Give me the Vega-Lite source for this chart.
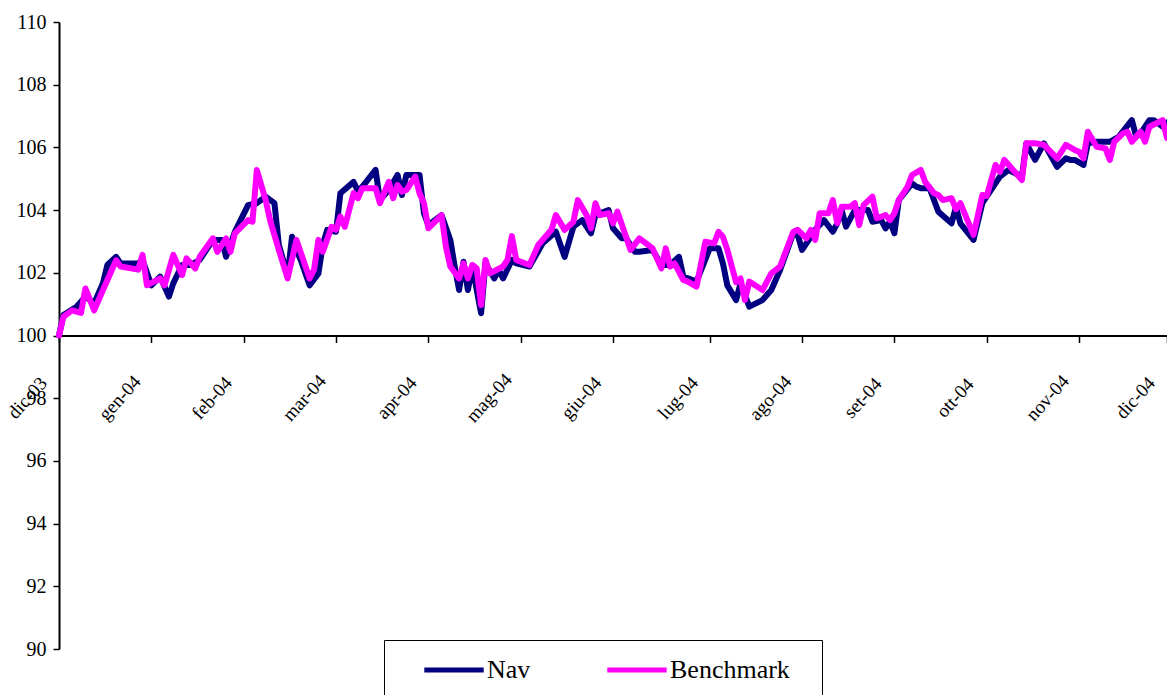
{
  "$schema": "https://vega.github.io/schema/vega-lite/v6.json",
  "width": 1108,
  "height": 627,
  "autosize": {"type": "none"},
  "padding": {"left": 59, "top": 22, "right": 0, "bottom": 46},
  "background": "white",
  "config": {"view": {"stroke": null}, "font": "Liberation Serif"},
  "data": {"values": [
    {"g":0,"s":"Nav","v":100.0},{"g":1,"s":"Nav","v":100.65},{"g":4,"s":"Nav","v":100.92},{"g":6,"s":"Nav","v":101.24},{"g":8,"s":"Nav","v":101.03},{"g":10,"s":"Nav","v":101.67},{"g":11,"s":"Nav","v":102.25},{"g":13,"s":"Nav","v":102.51},{"g":14,"s":"Nav","v":102.3},{"g":18,"s":"Nav","v":102.3},{"g":19,"s":"Nav","v":102.41},{"g":21,"s":"Nav","v":101.6},{"g":23,"s":"Nav","v":101.88},{"g":25,"s":"Nav","v":101.24},{"g":26,"s":"Nav","v":101.67},{"g":28,"s":"Nav","v":102.25},{"g":30,"s":"Nav","v":102.25},{"g":32,"s":"Nav","v":102.41},{"g":35,"s":"Nav","v":103.05},{"g":37,"s":"Nav","v":103.05},{"g":38,"s":"Nav","v":102.51},{"g":40,"s":"Nav","v":103.31},{"g":43,"s":"Nav","v":104.16},{"g":45,"s":"Nav","v":104.22},{"g":47,"s":"Nav","v":104.43},{"g":49,"s":"Nav","v":104.22},{"g":50,"s":"Nav","v":102.89},{"g":52,"s":"Nav","v":101.9},{"g":53,"s":"Nav","v":103.15},{"g":54,"s":"Nav","v":102.73},{"g":55,"s":"Nav","v":102.4},{"g":57,"s":"Nav","v":101.6},{"g":59,"s":"Nav","v":101.98},{"g":60,"s":"Nav","v":102.9},{"g":61,"s":"Nav","v":103.37},{"g":63,"s":"Nav","v":103.31},{"g":64,"s":"Nav","v":104.54},{"g":67,"s":"Nav","v":104.9},{"g":68,"s":"Nav","v":104.59},{"g":69,"s":"Nav","v":104.75},{"g":72,"s":"Nav","v":105.28},{"g":73,"s":"Nav","v":104.32},{"g":75,"s":"Nav","v":104.64},{"g":77,"s":"Nav","v":105.12},{"g":78,"s":"Nav","v":104.48},{"g":79,"s":"Nav","v":105.12},{"g":82,"s":"Nav","v":105.12},{"g":83,"s":"Nav","v":103.9},{"g":84,"s":"Nav","v":103.52},{"g":87,"s":"Nav","v":103.84},{"g":89,"s":"Nav","v":103.05},{"g":90,"s":"Nav","v":102.2},{"g":91,"s":"Nav","v":101.45},{"g":92,"s":"Nav","v":102.35},{"g":93,"s":"Nav","v":101.45},{"g":94,"s":"Nav","v":102.2},{"g":96,"s":"Nav","v":100.71},{"g":97,"s":"Nav","v":102.3},{"g":99,"s":"Nav","v":101.82},{"g":100,"s":"Nav","v":102.09},{"g":101,"s":"Nav","v":101.82},{"g":103,"s":"Nav","v":102.41},{"g":104,"s":"Nav","v":102.3},{"g":107,"s":"Nav","v":102.2},{"g":110,"s":"Nav","v":102.94},{"g":113,"s":"Nav","v":103.31},{"g":115,"s":"Nav","v":102.51},{"g":117,"s":"Nav","v":103.47},{"g":119,"s":"Nav","v":103.68},{"g":121,"s":"Nav","v":103.26},{"g":122,"s":"Nav","v":103.84},{"g":125,"s":"Nav","v":104.0},{"g":126,"s":"Nav","v":103.42},{"g":128,"s":"Nav","v":103.1},{"g":129,"s":"Nav","v":103.1},{"g":131,"s":"Nav","v":102.67},{"g":132,"s":"Nav","v":102.67},{"g":135,"s":"Nav","v":102.73},{"g":137,"s":"Nav","v":102.25},{"g":139,"s":"Nav","v":102.25},{"g":141,"s":"Nav","v":102.51},{"g":142,"s":"Nav","v":101.88},{"g":145,"s":"Nav","v":101.72},{"g":148,"s":"Nav","v":102.78},{"g":150,"s":"Nav","v":102.78},{"g":151,"s":"Nav","v":102.3},{"g":152,"s":"Nav","v":101.6},{"g":154,"s":"Nav","v":101.13},{"g":155,"s":"Nav","v":101.66},{"g":157,"s":"Nav","v":100.92},{"g":160,"s":"Nav","v":101.13},{"g":162,"s":"Nav","v":101.45},{"g":164,"s":"Nav","v":102.09},{"g":167,"s":"Nav","v":103.26},{"g":168,"s":"Nav","v":103.21},{"g":169,"s":"Nav","v":102.73},{"g":171,"s":"Nav","v":103.15},{"g":172,"s":"Nav","v":103.37},{"g":174,"s":"Nav","v":103.68},{"g":176,"s":"Nav","v":103.31},{"g":177,"s":"Nav","v":103.58},{"g":178,"s":"Nav","v":104.0},{"g":179,"s":"Nav","v":103.47},{"g":181,"s":"Nav","v":104.0},{"g":184,"s":"Nav","v":104.0},{"g":185,"s":"Nav","v":103.63},{"g":187,"s":"Nav","v":103.68},{"g":188,"s":"Nav","v":103.42},{"g":189,"s":"Nav","v":103.63},{"g":190,"s":"Nav","v":103.26},{"g":191,"s":"Nav","v":104.32},{"g":194,"s":"Nav","v":104.85},{"g":195,"s":"Nav","v":104.75},{"g":196,"s":"Nav","v":104.7},{"g":198,"s":"Nav","v":104.7},{"g":199,"s":"Nav","v":104.32},{"g":200,"s":"Nav","v":103.95},{"g":203,"s":"Nav","v":103.58},{"g":204,"s":"Nav","v":104.1},{"g":205,"s":"Nav","v":103.58},{"g":208,"s":"Nav","v":103.05},{"g":210,"s":"Nav","v":104.22},{"g":214,"s":"Nav","v":105.07},{"g":216,"s":"Nav","v":105.28},{"g":219,"s":"Nav","v":105.07},{"g":220,"s":"Nav","v":106.13},{"g":222,"s":"Nav","v":105.6},{"g":224,"s":"Nav","v":106.13},{"g":227,"s":"Nav","v":105.38},{"g":229,"s":"Nav","v":105.65},{"g":230,"s":"Nav","v":105.6},{"g":231,"s":"Nav","v":105.6},{"g":233,"s":"Nav","v":105.44},{"g":234,"s":"Nav","v":106.13},{"g":236,"s":"Nav","v":106.18},{"g":238,"s":"Nav","v":106.18},{"g":239,"s":"Nav","v":106.18},{"g":241,"s":"Nav","v":106.34},{"g":244,"s":"Nav","v":106.87},{"g":245,"s":"Nav","v":106.34},{"g":246,"s":"Nav","v":106.45},{"g":248,"s":"Nav","v":106.87},{"g":249,"s":"Nav","v":106.87},{"g":251,"s":"Nav","v":106.66},{"g":252,"s":"Nav","v":106.8},
    {"g":0,"s":"Benchmark","v":100.0},{"g":1,"s":"Benchmark","v":100.6},{"g":3,"s":"Benchmark","v":100.8},{"g":5,"s":"Benchmark","v":100.72},{"g":6,"s":"Benchmark","v":101.5},{"g":8,"s":"Benchmark","v":100.8},{"g":10,"s":"Benchmark","v":101.45},{"g":13,"s":"Benchmark","v":102.4},{"g":14,"s":"Benchmark","v":102.2},{"g":18,"s":"Benchmark","v":102.1},{"g":19,"s":"Benchmark","v":102.57},{"g":20,"s":"Benchmark","v":101.6},{"g":23,"s":"Benchmark","v":101.82},{"g":24,"s":"Benchmark","v":101.6},{"g":26,"s":"Benchmark","v":102.57},{"g":28,"s":"Benchmark","v":101.93},{"g":29,"s":"Benchmark","v":102.46},{"g":31,"s":"Benchmark","v":102.14},{"g":32,"s":"Benchmark","v":102.51},{"g":35,"s":"Benchmark","v":103.1},{"g":36,"s":"Benchmark","v":102.67},{"g":38,"s":"Benchmark","v":103.1},{"g":39,"s":"Benchmark","v":102.67},{"g":40,"s":"Benchmark","v":103.26},{"g":43,"s":"Benchmark","v":103.68},{"g":44,"s":"Benchmark","v":103.63},{"g":45,"s":"Benchmark","v":105.28},{"g":47,"s":"Benchmark","v":104.32},{"g":48,"s":"Benchmark","v":103.68},{"g":50,"s":"Benchmark","v":102.73},{"g":52,"s":"Benchmark","v":101.82},{"g":54,"s":"Benchmark","v":103.05},{"g":57,"s":"Benchmark","v":101.82},{"g":58,"s":"Benchmark","v":102.09},{"g":59,"s":"Benchmark","v":103.05},{"g":60,"s":"Benchmark","v":102.67},{"g":62,"s":"Benchmark","v":103.47},{"g":63,"s":"Benchmark","v":103.37},{"g":64,"s":"Benchmark","v":103.79},{"g":65,"s":"Benchmark","v":103.47},{"g":67,"s":"Benchmark","v":104.54},{"g":68,"s":"Benchmark","v":104.38},{"g":69,"s":"Benchmark","v":104.7},{"g":72,"s":"Benchmark","v":104.7},{"g":73,"s":"Benchmark","v":104.22},{"g":75,"s":"Benchmark","v":104.9},{"g":76,"s":"Benchmark","v":104.38},{"g":77,"s":"Benchmark","v":104.8},{"g":78,"s":"Benchmark","v":104.59},{"g":79,"s":"Benchmark","v":104.64},{"g":81,"s":"Benchmark","v":105.07},{"g":82,"s":"Benchmark","v":104.54},{"g":83,"s":"Benchmark","v":104.22},{"g":84,"s":"Benchmark","v":103.42},{"g":87,"s":"Benchmark","v":103.84},{"g":88,"s":"Benchmark","v":102.83},{"g":89,"s":"Benchmark","v":102.2},{"g":91,"s":"Benchmark","v":101.82},{"g":92,"s":"Benchmark","v":102.3},{"g":93,"s":"Benchmark","v":101.82},{"g":94,"s":"Benchmark","v":102.25},{"g":95,"s":"Benchmark","v":102.14},{"g":96,"s":"Benchmark","v":100.97},{"g":97,"s":"Benchmark","v":102.41},{"g":98,"s":"Benchmark","v":101.98},{"g":101,"s":"Benchmark","v":102.2},{"g":102,"s":"Benchmark","v":102.41},{"g":103,"s":"Benchmark","v":103.17},{"g":104,"s":"Benchmark","v":102.41},{"g":107,"s":"Benchmark","v":102.25},{"g":109,"s":"Benchmark","v":102.89},{"g":112,"s":"Benchmark","v":103.37},{"g":113,"s":"Benchmark","v":103.84},{"g":115,"s":"Benchmark","v":103.37},{"g":117,"s":"Benchmark","v":103.63},{"g":118,"s":"Benchmark","v":104.32},{"g":120,"s":"Benchmark","v":103.84},{"g":121,"s":"Benchmark","v":103.42},{"g":122,"s":"Benchmark","v":104.22},{"g":123,"s":"Benchmark","v":103.84},{"g":125,"s":"Benchmark","v":103.9},{"g":126,"s":"Benchmark","v":103.58},{"g":127,"s":"Benchmark","v":103.95},{"g":130,"s":"Benchmark","v":102.73},{"g":132,"s":"Benchmark","v":103.1},{"g":135,"s":"Benchmark","v":102.78},{"g":137,"s":"Benchmark","v":102.14},{"g":138,"s":"Benchmark","v":102.78},{"g":139,"s":"Benchmark","v":102.2},{"g":140,"s":"Benchmark","v":102.3},{"g":142,"s":"Benchmark","v":101.77},{"g":143,"s":"Benchmark","v":101.72},{"g":145,"s":"Benchmark","v":101.56},{"g":147,"s":"Benchmark","v":102.99},{"g":149,"s":"Benchmark","v":102.94},{"g":150,"s":"Benchmark","v":103.31},{"g":151,"s":"Benchmark","v":103.15},{"g":152,"s":"Benchmark","v":102.73},{"g":154,"s":"Benchmark","v":101.7},{"g":155,"s":"Benchmark","v":101.82},{"g":156,"s":"Benchmark","v":101.13},{"g":157,"s":"Benchmark","v":101.72},{"g":160,"s":"Benchmark","v":101.45},{"g":162,"s":"Benchmark","v":101.98},{"g":164,"s":"Benchmark","v":102.2},{"g":167,"s":"Benchmark","v":103.31},{"g":168,"s":"Benchmark","v":103.37},{"g":170,"s":"Benchmark","v":103.1},{"g":171,"s":"Benchmark","v":103.37},{"g":172,"s":"Benchmark","v":103.05},{"g":173,"s":"Benchmark","v":103.9},{"g":175,"s":"Benchmark","v":103.9},{"g":176,"s":"Benchmark","v":104.32},{"g":177,"s":"Benchmark","v":103.58},{"g":178,"s":"Benchmark","v":104.11},{"g":180,"s":"Benchmark","v":104.11},{"g":181,"s":"Benchmark","v":104.22},{"g":182,"s":"Benchmark","v":103.52},{"g":183,"s":"Benchmark","v":104.16},{"g":185,"s":"Benchmark","v":104.43},{"g":186,"s":"Benchmark","v":103.74},{"g":188,"s":"Benchmark","v":103.84},{"g":189,"s":"Benchmark","v":103.68},{"g":190,"s":"Benchmark","v":103.9},{"g":191,"s":"Benchmark","v":104.32},{"g":193,"s":"Benchmark","v":104.75},{"g":194,"s":"Benchmark","v":105.12},{"g":196,"s":"Benchmark","v":105.28},{"g":197,"s":"Benchmark","v":104.9},{"g":199,"s":"Benchmark","v":104.54},{"g":200,"s":"Benchmark","v":104.48},{"g":201,"s":"Benchmark","v":104.32},{"g":203,"s":"Benchmark","v":104.38},{"g":204,"s":"Benchmark","v":104.03},{"g":205,"s":"Benchmark","v":104.22},{"g":208,"s":"Benchmark","v":103.21},{"g":210,"s":"Benchmark","v":104.48},{"g":211,"s":"Benchmark","v":104.45},{"g":213,"s":"Benchmark","v":105.44},{"g":214,"s":"Benchmark","v":105.22},{"g":215,"s":"Benchmark","v":105.6},{"g":219,"s":"Benchmark","v":104.96},{"g":220,"s":"Benchmark","v":106.13},{"g":222,"s":"Benchmark","v":106.13},{"g":224,"s":"Benchmark","v":106.08},{"g":227,"s":"Benchmark","v":105.65},{"g":229,"s":"Benchmark","v":106.08},{"g":231,"s":"Benchmark","v":105.92},{"g":232,"s":"Benchmark","v":105.86},{"g":233,"s":"Benchmark","v":105.65},{"g":234,"s":"Benchmark","v":106.5},{"g":236,"s":"Benchmark","v":106.02},{"g":238,"s":"Benchmark","v":105.97},{"g":239,"s":"Benchmark","v":105.6},{"g":240,"s":"Benchmark","v":106.18},{"g":242,"s":"Benchmark","v":106.45},{"g":243,"s":"Benchmark","v":106.5},{"g":244,"s":"Benchmark","v":106.18},{"g":246,"s":"Benchmark","v":106.5},{"g":247,"s":"Benchmark","v":106.18},{"g":248,"s":"Benchmark","v":106.66},{"g":251,"s":"Benchmark","v":106.87},{"g":252,"s":"Benchmark","v":106.3}
  ]},
  "mark": {"type": "line", "strokeWidth": 6, "strokeJoin": "round", "strokeCap": "round"},
  "encoding": {
    "x": {
      "field": "g", "type": "quantitative",
      "scale": {"domain": [0, 252], "nice": false, "zero": false},
      "axis": {
        "orient": "bottom", "offset": -313.5, "title": null, "grid": false,
        "values": [0, 21, 42, 63, 84, 105, 126, 148, 169, 190, 211, 232, 252],
        "labelExpr": "['dic-03','gen-04','feb-04','mar-04','apr-04','mag-04','giu-04','lug-04','ago-04','set-04','ott-04','nov-04','dic-04'][indexof([0,21,42,63,84,105,126,148,169,190,211,232,252], datum.value)]",
        "labelAngle": -48, "labelAlign": "center", "labelBaseline": "middle",
        "labelPadding": 55, "labelOffset": -32,
        "labelFont": "Liberation Serif", "labelFontSize": 19, "labelColor": "black",
        "labelOverlap": false, "labelFlush": false, "labelBound": false,
        "domainColor": "black", "domainWidth": 2, "tickColor": "black", "tickWidth": 1.5, "tickSize": 7
      }
    },
    "y": {
      "field": "v", "type": "quantitative",
      "scale": {"domain": [90, 110], "nice": false, "zero": false},
      "axis": {
        "title": null, "grid": false,
        "values": [90, 92, 94, 96, 98, 100, 102, 104, 106, 108, 110],
        "labelFont": "Liberation Serif", "labelFontSize": 20, "labelColor": "black", "labelPadding": 7,
        "labelOverlap": false, "labelFlush": false,
        "domainColor": "black", "domainWidth": 2, "tickColor": "black", "tickWidth": 1.5, "tickSize": 6
      }
    },
    "color": {
      "field": "s", "type": "nominal",
      "scale": {"domain": ["Nav", "Benchmark"], "range": ["#000080", "#FF00FF"]},
      "legend": {
        "title": "\u00a0", "titleOrient": "right", "titlePadding": 18, "titleFontSize": 10,
        "orient": "none", "legendX": 325, "legendY": 618,
        "direction": "horizontal", "columns": 2, "gridAlign": "each", "columnPadding": 50,
        "symbolType": "M-2.2,0H2.2", "symbolSize": 729, "symbolStrokeWidth": 5, "symbolOffset": 40,
        "symbolFillColor": "transparent",
        "labelFont": "Liberation Serif", "labelFontSize": 26, "labelColor": "black", "labelOffset": 17,
        "labelLimit": 300,
        "padding": 14, "strokeColor": "black", "fillColor": "white"
      }
    }
  }
}
